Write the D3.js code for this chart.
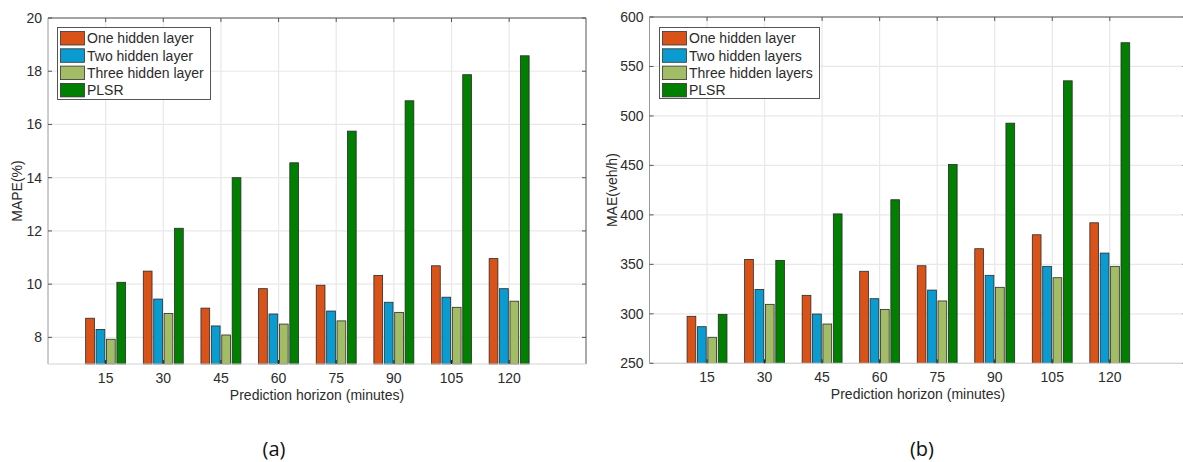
<!DOCTYPE html>
<html>
<head>
<meta charset="utf-8">
<script src="https://cdn.jsdelivr.net/npm/d3@7"></script>
<style>
  html, body { margin: 0; padding: 0; background: #fff; }
  svg { display: block; }
  text { font-family: "Liberation Sans", Arial, Helvetica, sans-serif; fill: #2b2b2b; }
</style>
</head>
<body>
<svg id="fig" width="1183" height="462"></svg>
<script>
// Prediction horizons (minutes)
const horizons = [15, 30, 45, 60, 75, 90, 105, 120];

// Panel (a): MAPE (%)
const mapeOne   = [8.72, 10.49, 9.10, 9.83, 9.96, 10.33, 10.69, 10.96];
const mapeTwo   = [8.30, 9.44, 8.43, 8.88, 8.99, 9.32, 9.51, 9.83];
const mapeThree = [7.93, 8.90, 8.09, 8.50, 8.62, 8.94, 9.13, 9.36];
const mapePLSR  = [10.07, 12.10, 14.00, 14.56, 15.75, 16.89, 17.87, 18.58];
const mapeTicks = [8, 10, 12, 14, 16, 18, 20];
const mapeLegend = ["One hidden layer", "Two hidden layer", "Three hidden layer", "PLSR"];

// Panel (b): MAE (veh/h)
const maeOne   = [297.5, 355, 318.7, 343, 348.6, 365.8, 379.9, 392];
const maeTwo   = [287, 324.7, 299.8, 315.3, 324, 338.9, 348, 361.4];
const maeThree = [276.3, 309.6, 289.7, 304.5, 313, 326.8, 336.5, 348];
const maePLSR  = [299.5, 354, 401, 415.3, 451, 492.7, 535.5, 574];
const maeTicks = [250, 300, 350, 400, 450, 500, 550, 600];
const maeLegend = ["One hidden layer", "Two hidden layers", "Three hidden layers", "PLSR"];

const colors = ["#D95319", "#0A9BD0", "#A3BD66", "#007F00"];

const svg = d3.select("#fig");
svg.append("rect").attr("width", 1183).attr("height", 462).attr("fill", "#fff");

function panel(opt) {
  const { left, right, top, bottom, yDomain, yTicks, series, legend, yLabel, tag, tagX, legendBox } = opt;
  const g = svg.append("g");
  const x = d3.scaleLinear().domain([0, 140]).range([left, right]);
  const y = d3.scaleLinear().domain(yDomain).range([bottom, top]);

  // grid lines
  g.append("g").selectAll("line").data(yTicks).join("line")
    .attr("x1", left).attr("x2", right)
    .attr("y1", d => y(d)).attr("y2", d => y(d))
    .attr("stroke", "#e8e8e8").attr("stroke-width", 1.2);
  g.append("g").selectAll("line").data(horizons).join("line")
    .attr("x1", d => x(d)).attr("x2", d => x(d))
    .attr("y1", top).attr("y2", bottom)
    .attr("stroke", "#e8e8e8").attr("stroke-width", 1.2);

  // grouped bars, four per horizon
  const inner = d3.scaleBand().domain(d3.range(series.length))
    .range([x(0) - x(5.2), x(5.2) - x(0)]).paddingInner(0.16);
  const groups = g.append("g").selectAll("g").data(horizons).join("g")
    .attr("transform", d => `translate(${x(d)},0)`);
  groups.selectAll("rect").data((d, i) => series.map((s, k) => ({ k, v: s[i] }))).join("rect")
    .attr("x", d => inner(d.k))
    .attr("width", inner.bandwidth())
    .attr("y", d => y(d.v))
    .attr("height", d => bottom - y(d.v))
    .attr("fill", d => colors[d.k])
    .attr("stroke", "#2a2a2a").attr("stroke-width", 0.8);

  // axes frame
  g.append("line").attr("x1", left).attr("x2", right).attr("y1", top).attr("y2", top)
    .attr("stroke", "#555").attr("stroke-width", 1);
  g.append("line").attr("x1", right).attr("x2", right).attr("y1", top).attr("y2", bottom)
    .attr("stroke", "#555").attr("stroke-width", 1);
  g.append("line").attr("x1", left).attr("x2", left).attr("y1", top).attr("y2", bottom)
    .attr("stroke", "#9a9a9a").attr("stroke-width", 1);
  g.append("line").attr("x1", left).attr("x2", right).attr("y1", bottom).attr("y2", bottom)
    .attr("stroke", "#d4d4d4").attr("stroke-width", 1.2);

  // inward tick marks
  const tk = 4;
  g.append("g").selectAll("line").data(yTicks).join("line")
    .attr("x1", left).attr("x2", left + tk).attr("y1", d => y(d)).attr("y2", d => y(d))
    .attr("stroke", "#555");
  g.append("g").selectAll("line").data(yTicks).join("line")
    .attr("x1", right).attr("x2", right - tk).attr("y1", d => y(d)).attr("y2", d => y(d))
    .attr("stroke", "#555");
  g.append("g").selectAll("line").data(horizons).join("line")
    .attr("x1", d => x(d)).attr("x2", d => x(d)).attr("y1", top).attr("y2", top + tk)
    .attr("stroke", "#555");
  g.append("g").selectAll("line").data(horizons).join("line")
    .attr("x1", d => x(d)).attr("x2", d => x(d)).attr("y1", bottom).attr("y2", bottom - tk)
    .attr("stroke", "#222");

  // tick labels
  g.append("g").selectAll("text").data(yTicks).join("text")
    .attr("x", left - 6).attr("y", d => y(d)).attr("dy", "0.35em")
    .attr("text-anchor", "end").style("font-size", "14px").text(d => d);
  g.append("g").selectAll("text").data(horizons).join("text")
    .attr("x", d => x(d)).attr("y", bottom + 19)
    .attr("text-anchor", "middle").style("font-size", "14px").text(d => d);

  // axis titles
  g.append("text").attr("x", x(70)).attr("y", bottom + 36)
    .attr("text-anchor", "middle").style("font-size", "14px")
    .text("Prediction horizon (minutes)");
  g.append("text")
    .attr("transform", `translate(${opt.yLabelX},${(top + bottom) / 2}) rotate(-90)`)
    .attr("text-anchor", "middle").attr("dy", "0.35em").style("font-size", "14px")
    .text(yLabel);

  // legend
  const lg = g.append("g");
  lg.append("rect").attr("x", legendBox.x).attr("y", legendBox.y)
    .attr("width", legendBox.w).attr("height", legendBox.h)
    .attr("fill", "#fff").attr("stroke", "#555").attr("stroke-width", 1);
  legend.forEach((name, i) => {
    const ry = legendBox.y + 4 + i * 17.3;
    lg.append("rect").attr("x", legendBox.x + 3).attr("y", ry)
      .attr("width", 24).attr("height", 13.5)
      .attr("fill", colors[i]).attr("stroke", "#333").attr("stroke-width", 0.8);
    lg.append("text").attr("x", legendBox.x + 29.5).attr("y", ry + 7).attr("dy", "0.35em")
      .style("font-size", "14px").text(name);
  });

  // panel tag
  svg.append("text").attr("x", tagX).attr("y", 456).attr("text-anchor", "middle")
    .style("font-family", "'Open Sans', 'Noto Sans', sans-serif").style("font-size", "20px")
    .style("fill", "#111").text(tag);
}

panel({
  left: 48, right: 586, top: 18, bottom: 364,
  yDomain: [7, 20], yTicks: mapeTicks,
  series: [mapeOne, mapeTwo, mapeThree, mapePLSR],
  legend: mapeLegend, yLabel: "MAPE(%)", yLabelX: 17,
  legendBox: { x: 57.5, y: 27.5, w: 153, h: 72 },
  tag: "(a)", tagX: 274
});

panel({
  left: 649.5, right: 1186.5, top: 17, bottom: 363.3,
  yDomain: [250, 600], yTicks: maeTicks,
  series: [maeOne, maeTwo, maeThree, maePLSR],
  legend: maeLegend, yLabel: "MAE(veh/h)", yLabelX: 612,
  legendBox: { x: 659.5, y: 27.5, w: 160, h: 71 },
  tag: "(b)", tagX: 922
});
</script>
</body>
</html>
